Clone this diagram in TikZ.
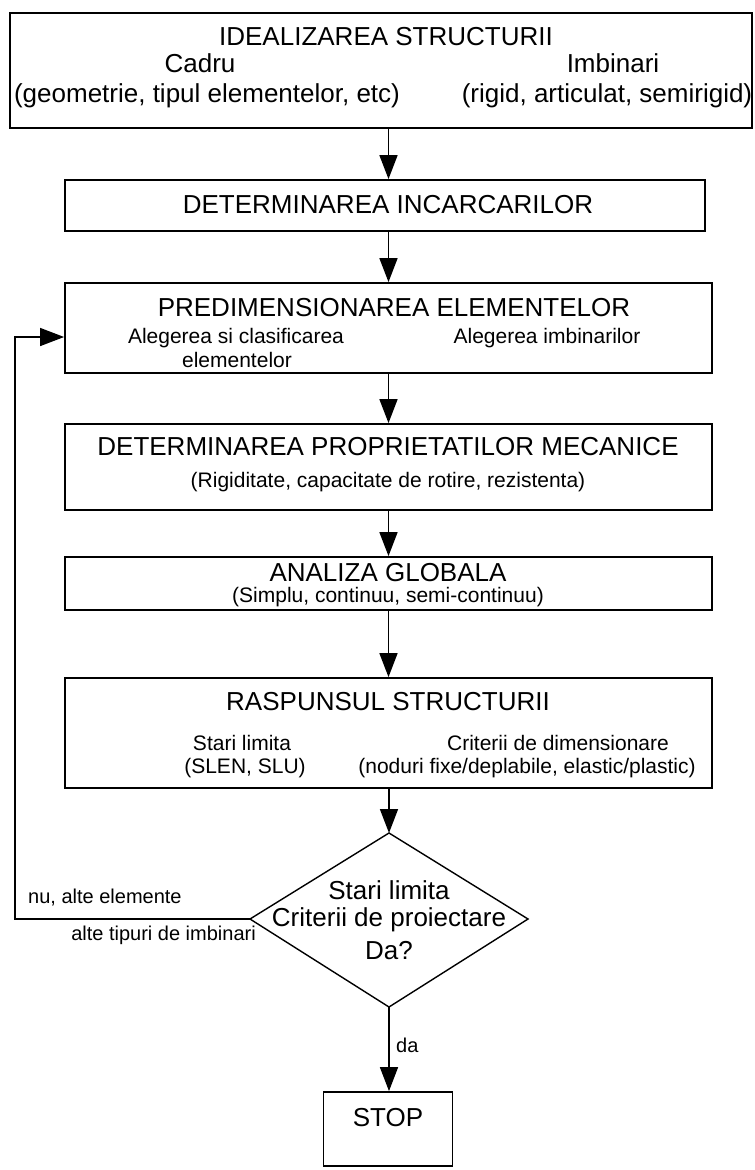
\documentclass[tikz,border=0pt]{standalone}
\usepackage{fontspec}
\setmainfont{Liberation Sans}
\usetikzlibrary{arrows.meta}
\tikzset{
  box/.style={draw, line width=1.8pt, rectangle, inner sep=0pt},
  arr/.style={line width=1.6pt, -{Triangle[width=18pt,length=24pt]}},
  line/.style={line width=1.4pt},
  ttl/.style={font=\fontsize{26}{30}\selectfont, inner sep=0pt, anchor=center},
  sub/.style={font=\fontsize{21}{25}\selectfont, inner sep=0pt, anchor=center},
  lbl/.style={font=\fontsize{20}{24}\selectfont, inner sep=0pt},
}
\begin{document}
\begin{tikzpicture}[x=1pt,y=-1pt]
\useasboundingbox[fill=white] (0,0) rectangle (755,1170);
% boxes
\node[box, minimum width=742pt, minimum height=115pt] (b1) at (381,70.5) {};
\node[box, minimum width=640pt, minimum height=51pt] (b2) at (385,205.5) {};
\node[box, minimum width=647pt, minimum height=90pt] (b3) at (388.5,328) {};
\node[box, minimum width=647pt, minimum height=86pt] (b4) at (388.5,467) {};
\node[box, minimum width=647pt, minimum height=53pt] (b5) at (388.5,583.5) {};
\node[box, minimum width=647pt, minimum height=110pt] (b6) at (388.5,733) {};
\node[box, minimum width=129pt, minimum height=74pt] (stop) at (388,1129) {};
% diamond
\coordinate (dt) at (389,833);
\coordinate (dl) at (250,919);
\coordinate (dr) at (528,919);
\coordinate (db) at (389,1007);
\draw[line] (dt) -- (dr) -- (db) -- (dl) -- cycle;
% texts box1
\node[ttl] (t1) at (386,37) {IDEALIZAREA STRUCTURII};
\node[ttl] (t1a) at (200,63) {Cadru};
\node[ttl] (t1b) at (613,63) {Imbinari};
\node[ttl] (t1c) at (207,96) {(geometrie, tipul elementelor, etc)};
\node[ttl] (t1d) at (607,96) {(rigid, articulat, semirigid)};
% box2
\node[ttl] (t2) at (388,205) {DETERMINAREA INCARCARILOR};
% box3
\node[ttl] (t3) at (394,308) {PREDIMENSIONAREA ELEMENTELOR};
\node[sub] (t3a) at (236,338) {Alegerea si clasificarea};
\node[sub] (t3b) at (237,360) {elementelor};
\node[sub] (t3c) at (547,338) {Alegerea imbinarilor};
% box4
\node[ttl] (t4) at (388,447) {DETERMINAREA PROPRIETATILOR MECANICE};
\node[sub] (t4a) at (388,482) {(Rigiditate, capacitate de rotire, rezistenta)};
% box5
\node[ttl] (t5) at (388,573) {ANALIZA GLOBALA};
\node[sub] (t5a) at (388,597) {(Simplu, continuu, semi-continuu)};
% box6
\node[ttl] (t6) at (388,702) {RASPUNSUL STRUCTURII};
\node[sub] (t6a) at (242,743) {Stari limita};
\node[sub] (t6b) at (245,768) {(SLEN, SLU)};
\node[sub] (t6c) at (558,743) {Criterii de dimensionare};
\node[sub] (t6d) at (527,768) {(noduri fixe/deplabile, elastic/plastic)};
% diamond text
\node[ttl] (td1) at (389,890) {Stari limita};
\node[ttl] (td2) at (389,920) {Criterii de proiectare};
\node[ttl] (td3) at (389,951) {Da?};
% stop
\node[ttl] (ts) at (388,1118) {STOP};
% arrows
\draw[arr] (b1.south -| b3.north) -- (b2.north -| b3.north);
\draw[arr] (b2.south -| b3.north) -- (b3.north);
\draw[arr] (b3.south) -- (b4.north);
\draw[arr] (b4.south) -- (b5.north);
\draw[arr] (b5.south) -- (b6.north);
\draw[arr] (b6.south -| dt) -- (dt);
\draw[arr] (db) -- (stop.north -| db);
% feedback
\coordinate (fb1) at (15,919);
\coordinate (fb2) at (15,337);
\draw[line, -{Triangle[width=18pt,length=24pt]}] (dl) -- (fb1) -- (fb2) -- (fb2 -| b3.west);
% labels
\node[lbl, anchor=west] (l1) at (28,898) {nu, alte elemente};
\node[lbl, anchor=east] (l2) at (256,935) {alte tipuri de imbinari};
\node[lbl, anchor=west] (l3) at (396,1045) {da};
\end{tikzpicture}
\end{document}
